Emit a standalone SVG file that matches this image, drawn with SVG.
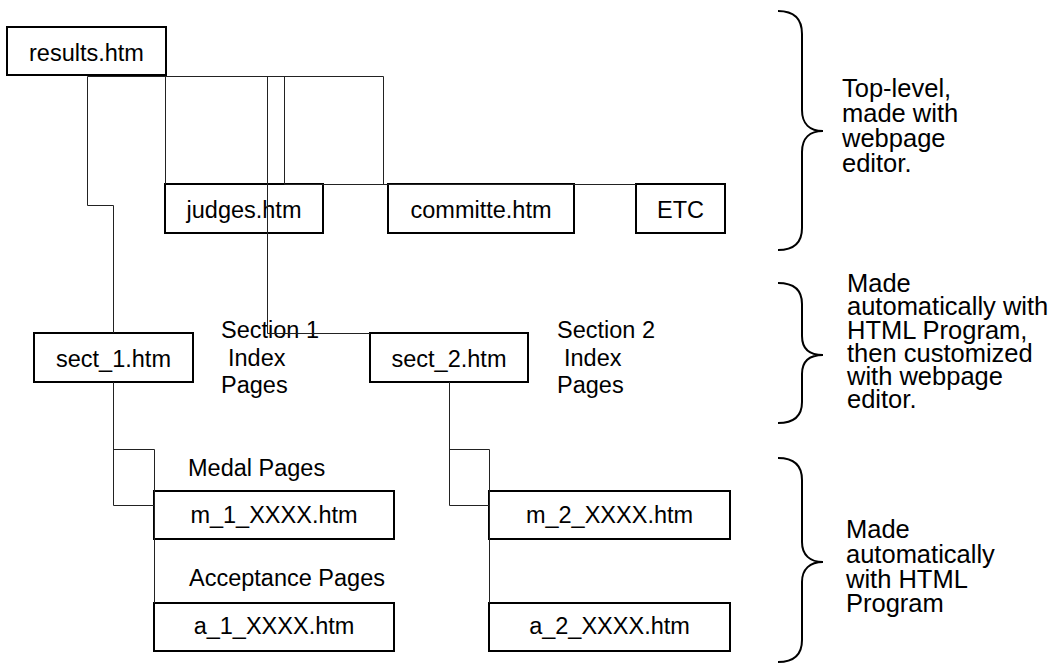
<svg xmlns="http://www.w3.org/2000/svg" width="1060" height="664" viewBox="0 0 1060 664">
  <style>
    .box { fill: #fff; stroke: #000; stroke-width: 2; }
    .lbl { font-family: "Liberation Sans", Arial, sans-serif; font-size: 23.5px; fill: #000; }
    .mid { text-anchor: middle; }
    .note { font-family: "Liberation Sans", Arial, sans-serif; font-size: 25.5px; fill: #000; }
    .wire { fill: none; stroke: #222; stroke-width: 1; }
    .brace { fill: none; stroke: #000; stroke-width: 2; }
  </style>
  <rect width="1060" height="664" fill="#fff"/>

  <!-- page boxes -->
  <g id="results">
    <rect class="box" x="7" y="27" width="159" height="48"/>
    <text class="lbl mid" x="86.5" y="61">results.htm</text>
  </g>
  <g id="judges">
    <rect class="box" x="165" y="184" width="158" height="49"/>
    <text class="lbl mid" x="244" y="218">judges.htm</text>
  </g>
  <g id="committe">
    <rect class="box" x="388" y="184" width="186" height="49"/>
    <text class="lbl mid" x="481" y="218">committe.htm</text>
  </g>
  <g id="etc">
    <rect class="box" x="636" y="184" width="89" height="49"/>
    <text class="lbl mid" x="680.5" y="218">ETC</text>
  </g>
  <g id="sect1">
    <rect class="box" x="34" y="333" width="159" height="49"/>
    <text class="lbl mid" x="113.5" y="367">sect_1.htm</text>
  </g>
  <g id="sect2">
    <rect class="box" x="370" y="333" width="158" height="49"/>
    <text class="lbl mid" x="449" y="367">sect_2.htm</text>
  </g>
  <g id="m1">
    <rect class="box" x="154" y="491" width="240" height="48"/>
    <text class="lbl mid" x="274" y="523">m_1_XXXX.htm</text>
  </g>
  <g id="a1">
    <rect class="box" x="154" y="603" width="240" height="48"/>
    <text class="lbl mid" x="274" y="634">a_1_XXXX.htm</text>
  </g>
  <g id="m2">
    <rect class="box" x="489" y="491" width="241" height="48"/>
    <text class="lbl mid" x="609.5" y="523">m_2_XXXX.htm</text>
  </g>
  <g id="a2">
    <rect class="box" x="489" y="603" width="241" height="48"/>
    <text class="lbl mid" x="609.5" y="634">a_2_XXXX.htm</text>
  </g>

  <!-- group captions -->
  <g id="section1-caption">
    <text class="lbl" x="221" y="338">Section 1</text>
    <text class="lbl" x="228" y="366">Index</text>
    <text class="lbl" x="221" y="393">Pages</text>
  </g>
  <g id="section2-caption">
    <text class="lbl" x="557" y="338">Section 2</text>
    <text class="lbl" x="564" y="366">Index</text>
    <text class="lbl" x="557" y="393">Pages</text>
  </g>
  <g id="medal-caption">
    <text class="lbl" x="188" y="476">Medal Pages</text>
  </g>
  <g id="acceptance-caption">
    <text class="lbl" x="189" y="586">Acceptance Pages</text>
  </g>

  <!-- connectors -->
  <g id="connectors">
    <path class="wire" d="M87.5 76.5 V205.5 H113.5 V333"/>
    <path class="wire" d="M87.5 76.5 H383.5 V184.5"/>
    <path class="wire" d="M165.5 76.5 V184"/>
    <path class="wire" d="M267.5 76.5 V333.5 H370"/>
    <path class="wire" d="M284.5 76.5 V184.5 H636"/>
    <path class="wire" d="M113.5 382 V505.5 H154"/>
    <path class="wire" d="M113.5 449.5 H154.5 V603"/>
    <path class="wire" d="M449.5 382 V505.5 H489"/>
    <path class="wire" d="M449.5 449.5 H489.5 V603"/>
  </g>

  <!-- tier braces and notes -->
  <g id="tier-top">
    <path class="brace" d="M778 11 C795 11 802 20 802 34 L802 110 C802 124 810 131 823 131 C810 131 802 138 802 152 L802 228 C802 242 795 250 778 250"/>
    <text class="note" x="842" y="97">Top-level,</text>
    <text class="note" x="842" y="122">made with</text>
    <text class="note" x="842" y="147">webpage</text>
    <text class="note" x="842" y="172">editor.</text>
  </g>
  <g id="tier-middle">
    <path class="brace" d="M778 283 C795 283 802 291 802 304 L802 336 C802 349 810 355 823 355 C810 355 802 361 802 374 L802 402 C802 415 795 423 778 423"/>
    <text class="note" x="847" y="292">Made</text>
    <text class="note" x="847" y="315">automatically with</text>
    <text class="note" x="847" y="338.5">HTML Program,</text>
    <text class="note" x="847" y="362">then customized</text>
    <text class="note" x="847" y="385">with webpage</text>
    <text class="note" x="847" y="408">editor.</text>
  </g>
  <g id="tier-bottom">
    <path class="brace" d="M778 458 C795 458 802 466 802 480 L802 542 C802 555 810 562 823 562 C810 562 802 569 802 582 L802 640 C802 654 795 662 778 662"/>
    <text class="note" x="846" y="538">Made</text>
    <text class="note" x="846" y="563">automatically</text>
    <text class="note" x="846" y="588">with HTML</text>
    <text class="note" x="846" y="612">Program</text>
  </g>
</svg>
